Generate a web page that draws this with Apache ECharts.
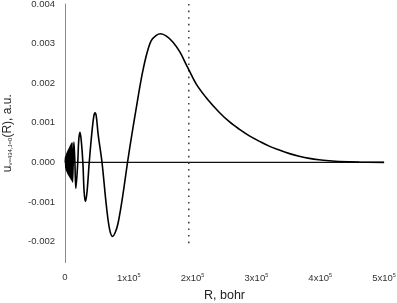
<!DOCTYPE html>
<html>
<head>
<meta charset="utf-8">
<script src="https://cdn.jsdelivr.net/npm/echarts@6/dist/echarts.min.js"></script>
<style>
html,body{margin:0;padding:0;background:#fff;}
#chart{width:397px;height:303px;}
</style>
</head>
<body>
<div id="chart"></div>
<script>
// R in units of 1e5 bohr, u in units of 1e-3 a.u.
const R_e5 = [
  0.004, 0.008, 0.012, 0.016, 0.020, 0.024, 0.028, 0.032, 0.036, 0.040,
  0.044, 0.049, 0.054, 0.059, 0.064, 0.070, 0.076, 0.082, 0.088, 0.095,
  0.102, 0.110, 0.118, 0.129, 0.140, 0.155, 0.170, 0.200, 0.215, 0.234,
  0.255, 0.280, 0.300, 0.320, 0.345, 0.380, 0.420, 0.450, 0.470, 0.490,
  0.520, 0.580, 0.650, 0.700, 0.745, 0.790, 0.830, 0.870, 0.920, 0.980, 1.020,
  1.070, 1.120, 1.170, 1.220, 1.280, 1.350, 1.430, 1.500, 1.590, 1.690,
  1.800, 1.900, 1.940, 2.060, 2.240, 2.420, 2.580, 2.730, 2.890, 3.050,
  3.200, 3.360, 3.520, 3.670, 3.830, 3.980, 4.140, 4.300, 4.610, 5.000
];
const u_e3 = [
  0.00, 0.14, -0.15, 0.17, -0.19, 0.21, -0.23, 0.25, -0.26, 0.28,
  -0.29, 0.31, -0.32, 0.34, -0.35, 0.38, -0.38, 0.42, -0.41, 0.46,
  -0.45, 0.50, -0.50, 0.00, 0.51, 0.00, -0.66, 0.00, 0.55, 0.76,
  0.55, 0.00, -0.75, -0.99, -0.75, 0.00, 0.73, 1.15, 1.25, 1.17,
  0.70, 0.00, -1.12, -1.70, -1.87, -1.76, -1.55, -1.20, -0.68, 0.00, 0.42,
  0.92, 1.40, 1.88, 2.31, 2.73, 3.07, 3.21, 3.25, 3.19, 3.04,
  2.79, 2.47, 2.34, 1.97, 1.58, 1.26, 1.02, 0.84, 0.67, 0.53,
  0.41, 0.31, 0.22, 0.155, 0.10, 0.065, 0.04, 0.022, 0.007, 0.00
];
const xTicks = [0, 1e5, 2e5, 3e5, 4e5, 5e5];
const zeroLineR = [0, 5e5];
const zeroLineU = [0, 0];
const markerR = [1.94e5, 1.94e5];
const markerU = [0.0040, -0.0021];

const curve = R_e5.map((r, i) => [r * 1e5, u_e3[i] * 1e-3]);
const zeroData = zeroLineR.map((r, i) => [r, zeroLineU[i]]);
const markerData = markerR.map((r, i) => [r, markerU[i]]);

const FONT = 'Liberation Sans, Arial, sans-serif';
const chart = echarts.init(document.getElementById('chart'), null, {renderer: 'canvas'});
chart.setOption({
  animation: false,
  backgroundColor: '#fff',
  grid: {left: 65, right: 13, top: 4, bottom: 40.5, containLabel: false, outerBoundsMode: 'none'},
  xAxis: {
    type: 'value', min: 0, max: 5e5, interval: 1e5,
    axisLine: {show: true, lineStyle: {color: '#8a8a8a', width: 1}},
    axisTick: {show: false},
    splitLine: {show: false},
    axisLabel: {
      margin: 10,
      formatter: v => v === 0 ? '{a|0}' : '{a|' + Math.round(v / 1e5) + 'x10}{s|5}',
      rich: {
        a: {fontFamily: FONT, fontSize: 9.5, color: '#333'},
        s: {fontFamily: FONT, fontSize: 5.5, color: '#333', padding: [0, 0, 6, 0]}
      }
    },
    name: 'R, bohr', nameLocation: 'middle', nameGap: 27,
    nameTextStyle: {fontFamily: FONT, fontSize: 12.5, color: '#222'}
  },
  yAxis: {
    type: 'value', min: -0.00253, max: 0.004,
    axisLine: {show: true, lineStyle: {color: '#8a8a8a', width: 1}},
    axisTick: {show: false},
    splitLine: {show: false},
    axisLabel: {
      margin: 10, fontFamily: FONT, fontSize: 9.5, color: '#333',
      formatter: v => {
        const k = v / 0.001;
        return Math.abs(k - Math.round(k)) < 1e-6 ? (Math.round(k) * 0.001).toFixed(3) : '';
      }
    },
    name: '{u|u}{sub|v=434,J=0}{u|(R), a.u.}', nameLocation: 'middle', nameGap: 51,
    nameTextStyle: {
      rich: {
        u: {fontFamily: FONT, fontSize: 12, color: '#222'},
        sub: {fontFamily: FONT, fontSize: 6, color: '#222', padding: [5, 0, 0, 0]}
      }
    }
  },
  series: [
    {type: 'line', data: zeroData, showSymbol: false, silent: true,
     lineStyle: {color: '#111', width: 1.2}, z: 2},
    {type: 'line', data: markerData, showSymbol: false, silent: true,
     lineStyle: {color: '#444', width: 1.6, type: [1.6, 5]}, z: 2},
    {type: 'line', data: curve, showSymbol: false, smooth: 0.35, silent: true,
     lineStyle: {color: '#000', width: 1.6}, z: 3}
  ]
});
</script>
</body>
</html>
